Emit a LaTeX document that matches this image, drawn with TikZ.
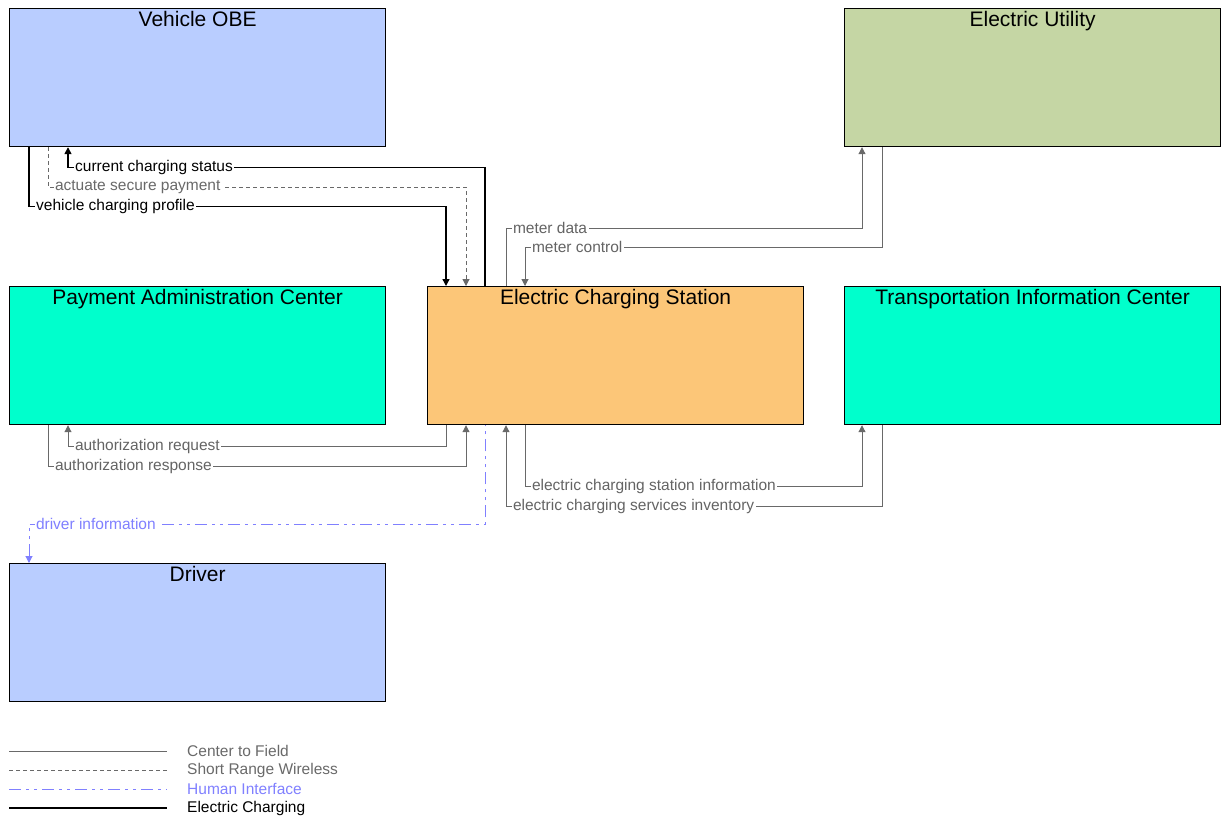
\documentclass[tikz,border=0pt]{standalone}
\usepackage{fontspec}
\setmainfont{Liberation Sans}
\usetikzlibrary{arrows.meta}
\definecolor{obeblue}{RGB}{185,205,255}
\definecolor{utilgreen}{RGB}{197,214,164}
\definecolor{centeraqua}{RGB}{0,255,204}
\definecolor{stationorange}{RGB}{252,198,120}
\definecolor{flowgray}{RGB}{105,105,105}
\definecolor{labelgray}{RGB}{100,100,100}
\definecolor{hiblue}{RGB}{128,128,255}

\begin{document}
\begin{tikzpicture}[x=1pt,y=-1pt,
  >={Triangle[length=7pt,width=7pt]},
  box/.style={draw=black, line width=1.2pt, minimum width=376pt, minimum height=138pt, anchor=north west, inner sep=0pt},
  boxtitle/.style={anchor=north, inner sep=3pt, font=\fontsize{21}{25}\selectfont},
  flowlabel/.style={anchor=west, xshift=5pt, fill=white, inner sep=1.5pt, font=\fontsize{15.5}{18}\selectfont},
  legendtext/.style={anchor=west, inner sep=0pt, font=\fontsize{15.5}{18}\selectfont},
  ctf/.style={draw=flowgray, line width=1pt},
  srw/.style={draw=flowgray, line width=1pt, dash pattern=on 4pt off 3pt},
  hif/.style={draw=hiblue, line width=1pt, dash pattern=on 12pt off 5pt on 3pt off 5pt on 3pt off 5pt},
  ecf/.style={draw=black, line width=1.4pt}]
  \useasboundingbox (0,0) rectangle (1225,823);
  % elements
  \node[box, fill=obeblue, label={[boxtitle]north:Vehicle OBE}] (vobe) at (9,8) {};
  \node[box, fill=utilgreen, label={[boxtitle]north:Electric Utility}] (eu) at (844,8) {};
  \node[box, fill=centeraqua, label={[boxtitle]north:Payment Administration Center}] (pac) at (9,286) {};
  \node[box, fill=stationorange, label={[boxtitle]north:Electric Charging Station}] (ecs) at (427,286) {};
  \node[box, fill=centeraqua, label={[boxtitle]north:Transportation Information Center}] (tic) at (844,286) {};
  \node[box, fill=obeblue, label={[boxtitle]north:Driver}] (drv) at (9,563) {};
  % flows
  \draw[ecf, <-] ([xshift=59pt]vobe.south west) -- ++(0,20)
    node[flowlabel, text=black] {current charging status} -| ([xshift=58pt]ecs.north west);
  \draw[srw, ->] ([xshift=39pt]vobe.south west) -- ++(0,40)
    node[flowlabel, text=flowgray] {actuate secure payment} -| ([xshift=39pt]ecs.north west);
  \draw[ecf, ->] ([xshift=20pt]vobe.south west) -- ++(0,59)
    node[flowlabel, text=black] {vehicle charging profile} -| ([xshift=19pt]ecs.north west);
  \draw[ctf, ->] ([xshift=79pt]ecs.north west) -- ++(0,-58)
    node[flowlabel, text=labelgray] {meter data} -| ([xshift=18pt]eu.south west);
  \draw[ctf, <-] ([xshift=98pt]ecs.north west) -- ++(0,-39)
    node[flowlabel, text=labelgray] {meter control} -| ([xshift=38pt]eu.south west);
  \draw[ctf, <-] ([xshift=59pt]pac.south west) -- ++(0,21)
    node[flowlabel, text=labelgray] {authorization request} -| ([xshift=19pt]ecs.south west);
  \draw[ctf, ->] ([xshift=39pt]pac.south west) -- ++(0,41)
    node[flowlabel, text=labelgray] {authorization response} -| ([xshift=39pt]ecs.south west);
  \draw[ctf, ->] ([xshift=98pt]ecs.south west) -- ++(0,61)
    node[flowlabel, text=labelgray] {electric charging station information} -| ([xshift=18pt]tic.south west);
  \draw[ctf, <-] ([xshift=79pt]ecs.south west) -- ++(0,81)
    node[flowlabel, text=labelgray] {electric charging services inventory} -| ([xshift=38pt]tic.south west);
  \draw[hif, <-] ([xshift=20pt]drv.north west) -- ++(0,-39)
    node[flowlabel, text=hiblue] {driver information} -| ([xshift=58pt]ecs.south west);
  % legend
  \draw[ctf] (9,751) -- (167,751);
  \node[legendtext, text=flowgray] (legctf) at (187,751) {Center to Field};
  \draw[srw] (9,770) -- (167,770);
  \node[legendtext, text=flowgray] (legsrw) at (187,770) {Short Range Wireless};
  \draw[hif] (9,789) -- (167,789);
  \node[legendtext, text=hiblue] (leghif) at (187,789) {Human Interface};
  \draw[ecf] (9,808) -- (167,808);
  \node[legendtext, text=black] (legecf) at (187,808) {Electric Charging};
\end{tikzpicture}
\end{document}
